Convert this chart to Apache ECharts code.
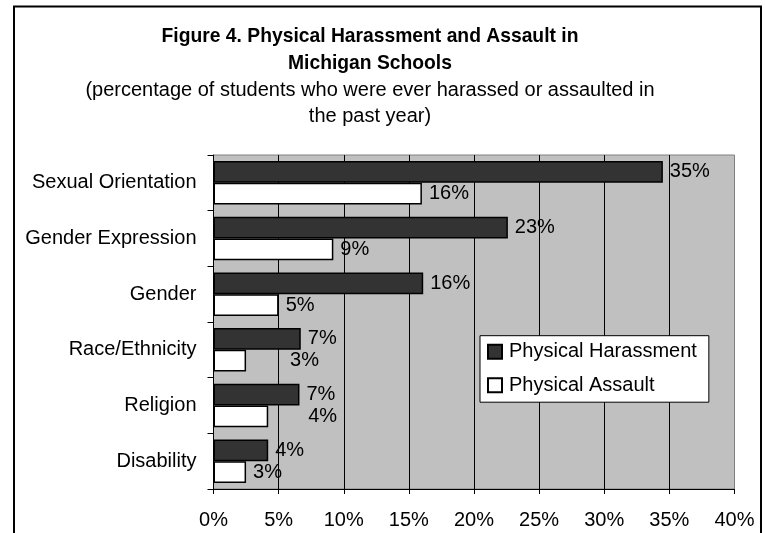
<!DOCTYPE html>
<html>
<head>
<meta charset="utf-8">
<script src="https://cdn.jsdelivr.net/npm/echarts@6/dist/echarts.min.js"></script>
<style>
  html, body { margin: 0; padding: 0; background: #fff; }
  #chart { width: 765px; height: 533px; }
</style>
</head>
<body>
<div id="chart"></div>
<script>
// Categories, top to bottom
const categories = ['Sexual Orientation', 'Gender Expression', 'Gender', 'Race/Ethnicity', 'Religion', 'Disability'];
// Percentage of students harassed / assaulted, per category
const harassment = [34.5, 22.6, 16.1, 6.7, 6.6, 4.2];
const assault = [16.0, 9.2, 5.0, 2.5, 4.2, 2.5];
const seriesNames = ['Physical Harassment', 'Physical Assault'];

const FONT = '"Liberation Sans", Arial, sans-serif';

// Two of the assault labels sit further to the right of their bars
const assaultLabelShift = { 3: 37, 4: 33 };

const pct = (p) => Math.round(p.value) + '%';

const chart = echarts.init(document.getElementById('chart'), null, { renderer: 'canvas' });

chart.setOption({
  animation: false,
  textStyle: { fontFamily: FONT },
  graphic: [
    {
      type: 'rect',
      silent: true,
      shape: { x: 14, y: 6.5, width: 747, height: 545 },
      style: { fill: 'none', stroke: '#000', lineWidth: 2 }
    },
    {
      type: 'text',
      x: 370, y: 22.5,
      style: {
        text: 'Figure 4. Physical Harassment and Assault in\nMichigan Schools',
        font: 'bold 19.3px ' + FONT,
        fill: '#000',
        align: 'center',
        verticalAlign: 'top',
        lineHeight: 27.5
      }
    },
    {
      type: 'text',
      x: 370, y: 77,
      style: {
        text: '(percentage of students who were ever harassed or assaulted in\nthe past year)',
        font: '20px ' + FONT,
        fill: '#000',
        align: 'center',
        verticalAlign: 'top',
        lineHeight: 26.6
      }
    }
  ],
  grid: {
    left: 213.5, right: 30.5, top: 155, bottom: 44,
    show: true,
    backgroundColor: '#c0c0c0',
    borderColor: '#808080',
    borderWidth: 1,
    outerBoundsMode: 'none'
  },
  legend: {
    orient: 'vertical',
    left: 480, top: 335.7,
    padding: [6, 12, 7, 7],
    itemWidth: 14, itemHeight: 14,
    itemGap: 13.5,
    icon: 'rect',
    backgroundColor: '#fff',
    borderColor: '#000',
    borderWidth: 1,
    textStyle: { fontSize: 20, color: '#000', fontFamily: FONT, padding: [0, 0, 0, 2] },
    data: seriesNames
  },
  xAxis: {
    type: 'value',
    min: 0, max: 40, interval: 5,
    axisLine: { show: true, lineStyle: { color: '#000', width: 1 } },
    axisTick: { show: true, length: 5, lineStyle: { color: '#000' } },
    axisLabel: { formatter: '{value}%', fontSize: 20, color: '#000', margin: 21, fontFamily: FONT },
    splitLine: { show: true, showMaxLine: false, lineStyle: { color: '#000', width: 1 } }
  },
  yAxis: {
    type: 'category',
    data: categories,
    inverse: true,
    axisLine: { show: true, lineStyle: { color: '#000', width: 1 } },
    axisTick: { show: true, length: 6, lineStyle: { color: '#000' } },
    axisLabel: { fontSize: 20, color: '#000', margin: 17, fontFamily: FONT },
    splitLine: { show: false }
  },
  series: [
    {
      name: seriesNames[0],
      type: 'bar',
      data: harassment,
      barGap: '0%',
      barCategoryGap: '22%',
      itemStyle: { color: '#333333', borderColor: '#000', borderWidth: 1.5 },
      label: { show: true, position: 'right', distance: 7, formatter: pct, fontSize: 20, color: '#000', fontFamily: FONT }
    },
    {
      name: seriesNames[1],
      type: 'bar',
      data: assault.map((v, i) => assaultLabelShift[i]
        ? { value: v, label: { offset: [assaultLabelShift[i], 0] } }
        : v),
      barGap: '0%',
      barCategoryGap: '22%',
      itemStyle: { color: '#ffffff', borderColor: '#000', borderWidth: 1.5 },
      label: { show: true, position: 'right', distance: 7, formatter: pct, fontSize: 20, color: '#000', fontFamily: FONT }
    }
  ]
});
</script>
</body>
</html>
